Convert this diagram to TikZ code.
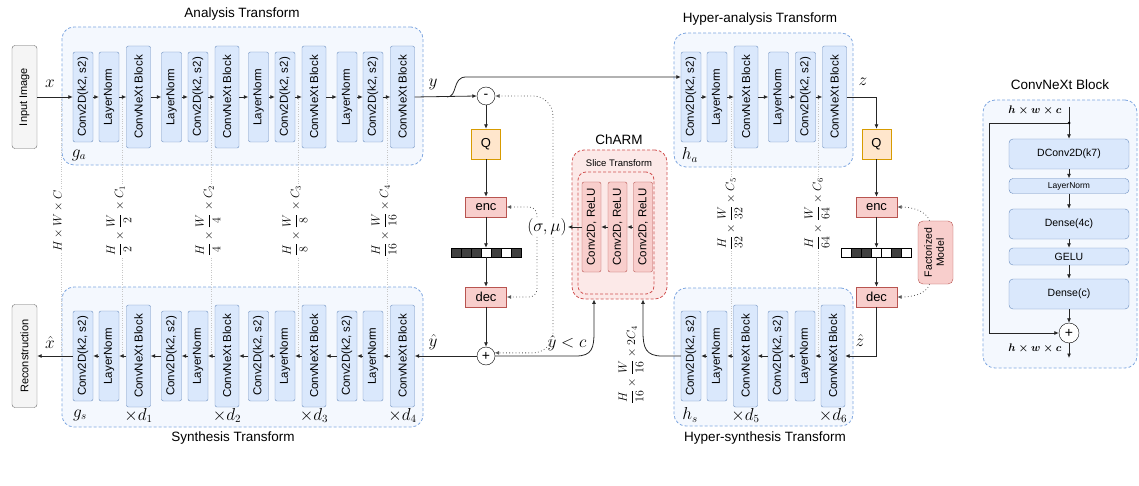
\documentclass[tikz,border=0pt]{standalone}
\usepackage[no-math]{fontspec}
\setmainfont{Liberation Sans}
\usepackage{graphicx}
\usetikzlibrary{arrows.meta,positioning}

\definecolor{blkfill}{HTML}{DAE8FC}
\definecolor{blkdraw}{HTML}{6C8EBF}
\definecolor{grpdraw}{HTML}{7EA6E0}
\definecolor{redfill}{HTML}{F8CECC}
\definecolor{reddraw}{HTML}{B85450}
\definecolor{charmdraw}{HTML}{D05050}
\definecolor{qfill}{HTML}{FFE6CC}
\definecolor{qdraw}{HTML}{D79B00}
\definecolor{iofill}{HTML}{F5F5F5}
\definecolor{iodraw}{HTML}{666666}

\newcommand{\vtext}[1]{\rotatebox{90}{#1}}

\begin{document}
\begin{tikzpicture}[x=1pt, y=-1pt,
	arr/.style={-{Latex[length=4.5pt,width=4pt]}, draw=black!85, line width=0.8pt},
	dotarr/.style={-{Latex[length=4.5pt,width=4pt]}, draw=black!65, line width=0.8pt, dash pattern=on 0.8pt off 2.4pt},
	dimline/.style={draw=black!22, line width=0.8pt, dash pattern=on 0.8pt off 1.6pt},
	grp/.style={draw=grpdraw, fill=blkfill!30, dash pattern=on 3pt off 2pt, line width=0.8pt, rounded corners=12pt, inner sep=0pt},
	charmbox/.style={draw=charmdraw, fill=redfill!45, dash pattern=on 3pt off 2pt, line width=0.8pt, rounded corners=12pt, inner sep=0pt},
	blk/.style={draw=blkdraw, fill=blkfill, rounded corners=2pt, minimum width=20pt, minimum height=90pt, inner sep=0pt, font=\fontsize{11.5}{12}\selectfont},
	conv/.style={blk, node contents=\vtext{Conv2D(k2, s2)}},
	ln/.style={blk, node contents=\vtext{LayerNorm}},
	cnx/.style={blk, minimum width=24pt, minimum height=102pt, node contents=\vtext{ConvNeXt Block}},
	relu/.style={blk, draw=reddraw, fill=redfill, minimum width=19pt, node contents=\vtext{Conv2D, ReLU}},
	iobox/.style={draw=iodraw, fill=iofill, rounded corners=3pt, minimum width=25pt, minimum height=103pt, inner sep=0pt, font=\fontsize{11}{12}\selectfont},
	op/.style={circle, draw=black, fill=white, minimum size=18pt, inner sep=0pt, font=\fontsize{14}{14}\selectfont},
	qbox/.style={draw=qdraw, fill=qfill, minimum width=29pt, minimum height=30pt, inner sep=0pt, font=\fontsize{13}{14}\selectfont},
	coder/.style={draw=reddraw, fill=redfill, minimum width=41pt, minimum height=20pt, inner sep=0pt, font=\fontsize{13}{14}\selectfont},
	bitd/.style={draw=black, fill=black!75, minimum width=10pt, minimum height=9pt, inner sep=0pt},
	bitw/.style={bitd, fill=white},
	fmbox/.style={draw=reddraw, fill=redfill, rounded corners=5pt, minimum width=35pt, minimum height=63pt, inner sep=0pt, font=\fontsize{10.5}{12}\selectfont},
	pblk/.style={draw=blkdraw, fill=blkfill, rounded corners=4pt, minimum width=120pt, inner sep=0pt, font=\fontsize{10.5}{12}\selectfont},
	ttl/.style={font=\fontsize{13.5}{15}\selectfont, inner sep=1pt},
	mlab/.style={font=\fontsize{16}{18}\selectfont, inner sep=1pt},
	dim/.style={rotate=90, fill=white, inner sep=1pt, font=\fontsize{12}{14}\selectfont},
	hwc/.style={font=\fontsize{10.5}{11}\selectfont\boldmath, inner sep=1pt}]

\useasboundingbox (0,0) rectangle (1139,486);

\node[grp, minimum width=361pt, minimum height=138pt] (ga) at (242.5,96) {};
\node[grp, minimum width=361pt, minimum height=140pt] (gs) at (242.5,357) {};
\node[grp, minimum width=179pt, minimum height=134pt] (ha) at (763.5,100) {};
\node[grp, minimum width=179pt, minimum height=138pt] (hs) at (763.5,357) {};
\node[grp, minimum width=154pt, minimum height=268pt] (cb) at (1060,234) {};
\node[charmbox, minimum width=95pt, minimum height=149pt] (charm) at (619.5,224.5) {};
\node[charmbox, fill=none, minimum width=76pt, minimum height=122pt, rounded corners=8pt] (slice) at (616,233) {};

\node[ttl] (tga) at (242,14) {Analysis Transform};
\node[ttl] (tgs) at (233,438) {Synthesis Transform};
\node[ttl] (tha) at (760,19) {Hyper-analysis Transform};
\node[ttl] (ths) at (765,438) {Hyper-synthesis Transform};
\node[ttl] (tcb) at (1060,85) {ConvNeXt Block};
\node[ttl] (tch) at (619,140) {ChARM};
\node[font=\fontsize{9.5}{10}\selectfont] (tsl) at (619,163) {Slice Transform};

\foreach \x/\d [count=\n] in {61/{H\times W\times C}, 122/{\frac{H}{2}\times\frac{W}{2}\times C_1}, 211/{\frac{H}{4}\times\frac{W}{4}\times C_2}, 298/{\frac{H}{8}\times\frac{W}{8}\times C_3}, 387/{\frac{H}{16}\times\frac{W}{16}\times C_4}}{
	\draw[dimline] (\x,97) -- (\x,356);
	\node[dim] (dim\n) at (\x-3,221) {$\displaystyle\d$};
}
\foreach \x/\d [count=\n from 5] in {731/{\frac{H}{32}\times\frac{W}{32}\times C_5}, 818/{\frac{H}{64}\times\frac{W}{64}\times C_6}}{
	\draw[dimline] (\x,97) -- (\x,356);
	\node[dim] (dim\n) at (\x-1,214) {$\displaystyle\d$};
}

\foreach \s/\x [count=\n] in {conv/83, ln/109, cnx/138.5, ln/171.5, conv/198, cnx/227, ln/258.5, conv/285, cnx/314, ln/347, conv/373, cnx/402.5}
	\node (a\n) at (\x,97) [\s];
\foreach \s/\x [count=\n] in {conv/83, ln/109, cnx/138.5, conv/171.5, ln/198, cnx/227, conv/258.5, ln/285, cnx/314, conv/347, ln/373, cnx/402.5}
	\node (s\n) at (\x,356) [\s];
\foreach \s/\x [count=\n] in {conv/691, ln/717, cnx/746, ln/778.5, conv/805.5, cnx/834.5}
	\node (ha\n) at (\x,97) [\s];
\foreach \s/\x [count=\n] in {conv/691, ln/717, cnx/745.5, conv/778, ln/805, cnx/833}
	\node (hs\n) at (\x,356) [\s];
\foreach \x [count=\n] in {591.5, 617.5, 643}
	\node (cr\n) at (\x,227) [relu];

\foreach \n [remember=\n as \p (initially 1)] in {2,...,12}{
	\draw[arr] (a\p.east) -- (a\n.west);
	\draw[arr] (s\n.west) -- (s\p.east);
}
\foreach \n [remember=\n as \p (initially 1)] in {2,...,6}{
	\draw[arr] (ha\p.east) -- (ha\n.west);
	\draw[arr] (hs\n.west) -- (hs\p.east);
}

\node[mlab] (lga) at (79,155) {$g_a$};
\node[mlab] (lgs) at (80,415) {$g_s$};
\node[mlab] (lha) at (690,155) {$h_a$};
\node[mlab] (lhs) at (690,415) {$h_s$};
\foreach \b/\i in {s3/1, s6/2, s9/3, s12/4, hs3/5, hs6/6}
	\node[mlab, below=0pt of \b] (d\i) {$\times d_{\i}$};

\node[iobox] (img) at (24.5,97) {\vtext{Input Image}};
\node[iobox] (rec) at (24.5,356) {\vtext{Reconstruction}};

\node[op] (minus) at (486,96) {-};
\node[op] (plus) at (486,356) {+};
\node[qbox] (q1) at (486,144) {Q};
\node[coder] (enc1) at (486,207) {enc};
\node[coder] (dec1) at (486,297) {dec};
\foreach \c [count=\k] in {d,d,d,w,d,w,d}
	\node[bit\c] (bl\k) at (446+10*\k,252.5) {};
\node[qbox] (q2) at (876.5,144) {Q};
\node[coder] (enc2) at (876.5,207) {enc};
\node[coder] (dec2) at (876.5,297) {dec};
\foreach \c [count=\k] in {w,d,d,w,w,d,w}
	\node[bit\c] (br\k) at (836.5+10*\k,252.5) {};
\node[fmbox] (fm) at (935.5,252.5) {\vtext{\begin{tabular}{@{}c@{}}Factorized\\Model\end{tabular}}};
\node[mlab] (sm) at (547,227) {$(\sigma,\mu)$};

\draw[arr] (img.east) -- (a1.west);
\node[mlab] (lx) at (50,84) {$x$};
\draw[arr] (a12.east) -- (minus.west);
\node[mlab] (ly) at (433,84) {$y$};
\coordinate (ysplit) at (447,97);
\draw[arr] (ysplit) .. controls (458,97) and (452,77) .. (466,77) -- (ha1.west |- 0,77);
\draw[arr] (minus) -- (q1);
\draw[arr] (q1) -- (enc1);
\draw[arr] (enc1) -- (bl4);
\draw[arr] (bl4) -- (dec1);
\draw[arr] (dec1) -- (plus);
\draw[arr] (plus.west) -- (s12.east);
\node[mlab] (lyh) at (433,342) {$\hat{y}$};
\draw[arr] (s1.west) -- (rec.east);
\node[mlab] (lxh) at (50,342) {$\hat{x}$};

\draw[arr] (ha6.east) -| (q2.north);
\node[mlab] (lz) at (863,82) {$z$};
\draw[arr] (q2) -- (enc2);
\draw[arr] (enc2) -- (br4);
\draw[arr] (br4) -- (dec2);
\draw[arr] (dec2.south) |- (hs6.east);
\node[mlab] (lzh) at (860,340) {$\hat{z}$};

\draw[arr] (hs1.west) -- (662,356) .. controls (646,356) and (643,348) .. (643,332) -- (charm.south -| 643,0);
\node[dim, fill=none] (dim7) at (631,365) {$\displaystyle\frac{H}{16}\times\frac{W}{16}\times 2C_4$};
\draw[arr] (plus.east) -- (576,356) .. controls (592,356) and (594,348) .. (594,332) -- (charm.south -| 594,0);
\node[mlab] (lyc) at (567,343) {$\hat{y}<c$};
\draw[arr] (cr3.west) -- (cr2.east);
\draw[arr] (cr2.west) -- (cr1.east);
\draw[arr] (cr1.west) -- (sm.east);

\draw[dotarr, rounded corners=20pt] ([xshift=6pt]sm.north) |- (minus.east);
\draw[dotarr, rounded corners=8pt] ([xshift=-10pt]sm.north) |- (enc1.east);
\draw[dotarr, rounded corners=8pt] ([xshift=-10pt]sm.south) |- (dec1.east);
\draw[dotarr, rounded corners=20pt] ([xshift=6pt]sm.south) |- (plus.20);
\draw[dotarr] ([xshift=-6pt]fm.north) .. controls (926,210) and (910,207) .. (enc2.east);
\draw[dotarr] ([xshift=-6pt]fm.south) .. controls (926,295) and (910,297) .. (dec2.east);

\node[pblk, minimum height=30pt] (cb1) at (1069,154) {DConv2D(k7)};
\node[pblk, minimum height=15pt, font=\fontsize{8.5}{9}\selectfont] (cb2) at (1069,186) {LayerNorm};
\node[pblk, minimum height=30pt] (cb3) at (1069,224) {Dense(4c)};
\node[pblk, minimum height=17pt] (cb4) at (1069,256.5) {GELU};
\node[pblk, minimum height=30pt] (cb5) at (1069,294) {Dense(c)};
\node[op, minimum size=20pt] (cplus) at (1069,333) {+};
\coordinate (cin) at (1069,107);
\coordinate (cjoin) at (1069,123);
\coordinate (cout) at (1069,358);
\draw[arr] (cin) -- (cb1);
\fill (cjoin) circle (1.5pt);
\foreach \n [remember=\n as \p (initially 1)] in {2,...,5}
	\draw[arr] (cb\p) -- (cb\n);
\draw[arr] (cb5) -- (cplus);
\draw[arr] (cjoin) -- (989,123) |- (cplus.west);
\draw[arr] (cplus) -- (cout);
\node[hwc] (hin) at (1035,110) {$h\times w\times c$};
\node[hwc] (hout) at (1035,348) {$h\times w\times c$};
\end{tikzpicture}
\end{document}
